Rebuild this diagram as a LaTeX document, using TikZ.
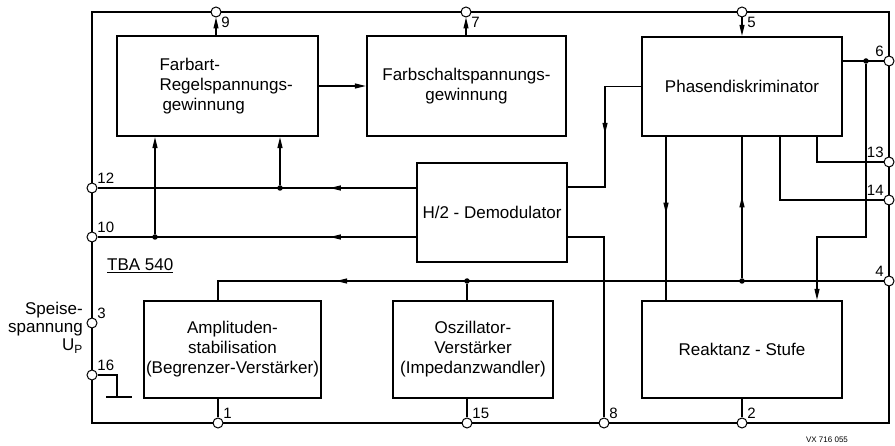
\documentclass[tikz,border=0pt]{standalone}
\usepackage{fontspec}
\setmainfont{Liberation Sans}
\usetikzlibrary{arrows.meta,decorations.markings}

\begin{document}
\begin{tikzpicture}[x=1pt,y=-1pt,>={Triangle[length=11pt,width=5pt]},
block/.style={draw,line width=2.4pt,align=center,inner sep=1pt,font=\fontsize{17}{20}\selectfont},
term/.style={circle,draw,fill=white,line width=1pt,inner sep=0pt,minimum size=10pt},
num/.style={font=\fontsize{15}{15}\selectfont,inner sep=1pt},
sig/.style={line width=1.2pt},
junc/.style={circle,fill,inner sep=0pt,minimum size=5.5pt},
midarrow/.style={postaction={decorate},decoration={markings,mark=at position #1 with {\arrow{>}}}}]
\useasboundingbox (0,0) rectangle (895,446);
\draw[line width=2.8pt] (92,12) rectangle (889,423);

\node[block,minimum width=201pt,minimum height=100pt,align=left,text width=170pt] (farbart) at (217.5,86) {\hspace*{27pt}Farbart-\\\hspace*{27pt}Regelspannungs-\\\hspace*{30pt}gewinnung};
\node[block,minimum width=199pt,minimum height=100pt] (schalt) at (466.5,86) {Farbschaltspannungs-\\gewinnung};
\node[block,minimum width=200pt,minimum height=99pt] (phasen) at (742,86.5) {Phasendiskriminator};
\node[block,minimum width=150pt,minimum height=99pt] (demod) at (492,212.5) {H/2 - Demodulator};
\node[block,minimum width=177pt,minimum height=97pt] (ampl) at (232.5,349.5) {Amplituden-\\stabilisation\\(Begrenzer-Verstärker)};
\node[block,minimum width=160pt,minimum height=97pt] (osz) at (473,349.5) {Oszillator-\\Verstärker\\(Impedanzwandler)};
\node[block,minimum width=200pt,minimum height=97pt] (reak) at (742,349.5) {Reaktanz - Stufe};

% pins of the IC
\foreach \n/\x/\y/\a in {9/216/12/-40,7/466/12/-40,5/742/12/-40,
  6/889/61/140,13/889/162/140,14/889/200/140,4/889/281/140,
  12/92/188/40,10/92/237/40,3/92/323/40,16/92/375/40,
  1/218/423/40,15/467/423/40,8/604/423/40,2/742/423/40}
  \node[term,label={[num]\a:\n}] (p\n) at (\x,\y) {};

\draw[sig,->] (p9 |- farbart.north) -- (p9);
\draw[sig,->] (p7 |- schalt.north) -- (p7);
\draw[sig,->] (p5) -- (p5 |- phasen.north);
\draw[sig,->] (farbart) -- (schalt);

% Phasendiskriminator outputs
\node[junc] (j6) at (866,61) {};
\draw[sig] (phasen.east |- p6) -- (p6);
\coordinate (k6) at (817,237);
\draw[sig,->] (j6) |- (k6) -- (k6 |- reak.north);
\draw[sig] ([xshift=75pt]phasen.south) |- (p13);
\draw[sig] ([xshift=38pt]phasen.south) |- (p14);
\draw[sig,midarrow=0.47] ([xshift=-76pt]phasen.south) -- ([xshift=-76pt]reak.north);
\node[junc] (j4) at (742,281) {};
\draw[sig,midarrow=0.58] (j4) -- (phasen.south);

% H/2 demodulator
\coordinate (k2) at (605,187);
\draw[sig,midarrow=0.48] (phasen.west) -| (k2) -- (demod.east |- k2);
\draw[sig] (demod.east |- p10) -| (p8);
\draw[sig,midarrow=0.27] (demod.west |- p12) -- (p12);
\draw[sig,midarrow=0.27] (demod.west |- p10) -- (p10);
\node[junc] (j12) at (280,188) {};
\node[junc] (j10) at (155,237) {};
\draw[sig,->] (j12) -- (j12 |- farbart.south);
\draw[sig,->] (j10) -- (j10 |- farbart.south);

% pin 4 line
\coordinate (k4) at (218,281);
\draw[sig,midarrow=0.8] (p4) -- (k4) -- (k4 |- ampl.north);
\node[junc] (j15) at (467,281) {};
\draw[sig] (j15) -- (j15 |- osz.north);

\draw[sig] (p1 |- ampl.south) -- (p1);
\draw[sig] (p15 |- osz.south) -- (p15);
\draw[sig] (p2 |- reak.south) -- (p2);

% ground
\coordinate (gnd) at (117,397);
\draw[sig] (p16) -| (gnd);
\draw[line width=2.2pt] ([xshift=-11pt]gnd) -- ([xshift=15pt]gnd);

\node[font=\fontsize{17}{17}\selectfont,anchor=west,inner sep=0pt] (chip) at (107,266) {\underline{TBA 540}};
\node[anchor=east,align=right,font=\fontsize{17}{18}\selectfont,inner sep=0pt] (speise) at (83,328) {Speise-\\spannung\\U\textsubscript{P}};
\node[font=\fontsize{8}{8}\selectfont] (ref) at (827,440) {VX 716 055};
\end{tikzpicture}
\end{document}
